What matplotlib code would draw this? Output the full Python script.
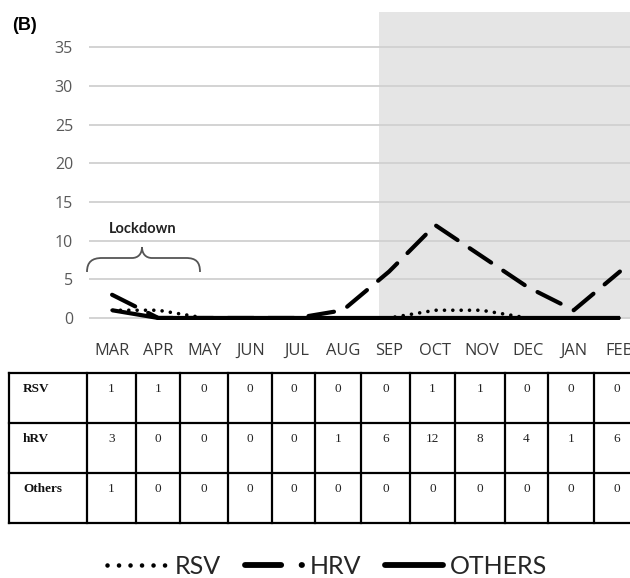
import matplotlib
matplotlib.use("Agg")
import matplotlib.pyplot as plt
from matplotlib.path import Path
from matplotlib.patches import PathPatch
from matplotlib.lines import Line2D

# ---------------- data ----------------
months = ['MAR', 'APR', 'MAY', 'JUN', 'JUL', 'AUG', 'SEP', 'OCT', 'NOV', 'DEC', 'JAN', 'FEB']
rsv = [1, 1, 0, 0, 0, 0, 0, 1, 1, 0, 0, 0]
hrv = [3, 0, 0, 0, 0, 1, 6, 12, 8, 4, 1, 6]
others = [1, 0, 0, 0, 0, 0, 0, 0, 0, 0, 0, 0]
row_labels = ['RSV', 'hRV', 'Others']
yticks = [0, 5, 10, 15, 20, 25, 30, 35]
legend_labels = ['RSV', 'HRV', 'OTHERS']

W, H = 630, 578
fig = plt.figure(figsize=(W / 100, H / 100), dpi=100)

# ---------------- main chart ----------------
left_px, right_px = 89, 643
y0_px, ytop_px = 320.3, 12.3
ax = fig.add_axes([left_px / W, (H - y0_px) / H, (right_px - left_px) / W, (y0_px - ytop_px) / H])
ax.set_xlim(-0.5, 11.5)
ax.set_ylim(-0.3, 39.5)
for s in ax.spines.values():
    s.set_visible(False)
ax.set_axisbelow(True)
ax.yaxis.grid(True, color='#d0d0d0', lw=1.3)
ax.set_yticks(yticks)
ax.set_xticks(range(len(months)), months)
ax.tick_params(axis='both', length=0)
ax.tick_params(axis='y', pad=11.5, labelsize=11.5, labelcolor='#595959')
ax.tick_params(axis='x', pad=16, labelsize=11.8, labelcolor='#3a3a3a')
for lab in ax.get_xticklabels() + ax.get_yticklabels():
    lab.set_fontfamily('Open Sans')

ax.axvspan(5.78, 12, ymin=(0.0 + 0.3) / 39.8, ymax=1, color='#e5e5e5', zorder=0.2, lw=0)

x = list(range(len(months)))
ax.plot(x, others, color='black', lw=3, solid_capstyle='butt', zorder=3)
ax.plot(x, hrv, color='black', lw=3, linestyle=(0, (6.2, 3.5)), dash_capstyle='round', zorder=4)
ax.plot(x, rsv, color='black', lw=2.6, linestyle=(0, (0.01, 2.3)), dash_capstyle='round', zorder=5)

# ---------------- overlay in pixel coordinates ----------------
ov = fig.add_axes([0, 0, 1, 1], zorder=10)
ov.set_xlim(0, W)
ov.set_ylim(H, 0)
ov.axis('off')
ov.patch.set_alpha(0)

ov.text(12, 25, '(B)', fontsize=13, fontweight='bold', family='Liberation Sans',
        va='center', ha='left', color='black')

# Lockdown annotation
ov.text(143, 229, 'Lockdown', fontsize=10.5, fontweight='bold', family='Lato',
        ha='center', va='center', color='#222222')
verts = [(87, 272), (87, 262), (92, 258), (102, 258),
         (132, 258),
         (138, 258), (142, 254), (142, 247),
         (142, 254), (146, 258), (152, 258),
         (186, 258),
         (196, 258), (200, 262), (200, 272)]
codes = [Path.MOVETO, Path.CURVE4, Path.CURVE4, Path.CURVE4,
         Path.LINETO,
         Path.CURVE4, Path.CURVE4, Path.CURVE4,
         Path.CURVE4, Path.CURVE4, Path.CURVE4,
         Path.LINETO,
         Path.CURVE4, Path.CURVE4, Path.CURVE4]
ov.add_patch(PathPatch(Path(verts, codes), fill=False, edgecolor='#555555', lw=1.3))

# ---------------- table ----------------
col_edges = [9, 87, 136, 180, 228, 272, 315, 361, 410, 455, 505, 548, 594, 640]
row_edges = [373, 423, 473, 523]
for yy in row_edges:
    ov.add_line(Line2D([col_edges[0], W + 5], [yy, yy], color='black', lw=1.6))
for xx in col_edges[:-1]:
    ov.add_line(Line2D([xx, xx], [row_edges[0], row_edges[-1]], color='black', lw=1.6))

table_rows = [rsv, hrv, others]
for r, (lab, vals) in enumerate(zip(row_labels, table_rows)):
    yc = row_edges[r] + 16
    ov.text(col_edges[0] + 14, yc, lab, fontsize=9.5, fontweight='bold',
            family='Liberation Serif', ha='left', va='center', color='#111111')
    for c, v in enumerate(vals):
        xc = (col_edges[c + 1] + col_edges[c + 2]) / 2
        ov.text(xc, yc, str(v), fontsize=9.5, family='Liberation Serif',
                ha='center', va='center', color='#222222')

# ---------------- legend ----------------
ly = 565
ov.add_line(Line2D([107, 165], [ly, ly], color='black', lw=3.3,
                   linestyle=(0, (0.01, 2.5)), dash_capstyle='round'))
ov.add_line(Line2D([245, 302], [ly, ly], color='black', lw=4.2,
                   linestyle=(0, (6.2, 3.5)), dash_capstyle='round'))
ov.add_line(Line2D([385, 443], [ly, ly], color='black', lw=4.2, solid_capstyle='round'))
for xt, t in zip([175, 310, 450], legend_labels):
    ov.text(xt, 573.5, t, fontsize=18, family='Lato', ha='left', va='baseline', color='#262626')

fig.savefig('out.png', dpi=100)
